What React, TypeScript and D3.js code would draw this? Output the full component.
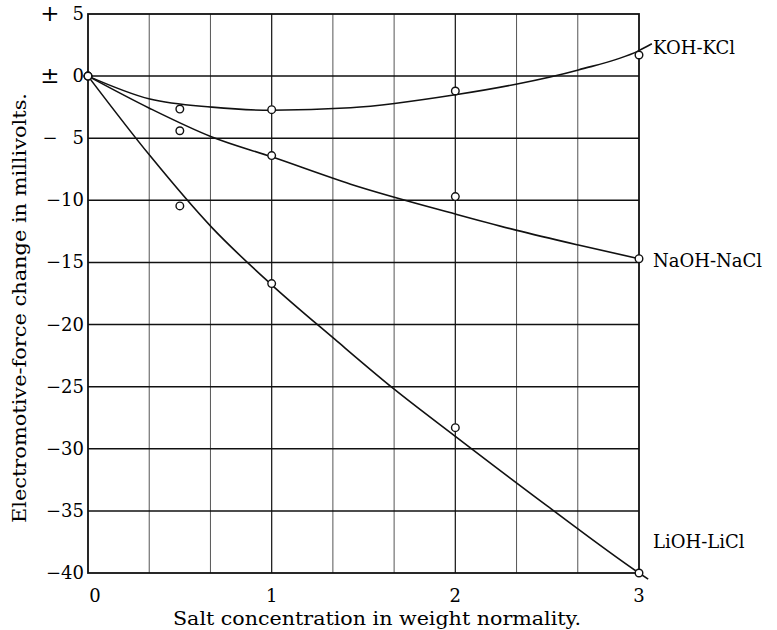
import * as d3 from 'd3';
import { useEffect, useRef } from 'react';

// measured points (salt normality vs e.m.f. change, mV)
const concentrations = [0, 0.5, 1, 2, 3];
const kohValues = [0, -2.65, -2.7, -1.2, 1.7];
const naohValues = [0, -4.4, -6.4, -9.7, -14.7];
const liohValues = [0, -10.45, -16.7, -28.3, -40];

// hand-drawn smoothing curves
const kohCurveX = [0, 0.337, 0.675, 1, 1.43, 2, 2.33, 2.67, 3, 3.07];
const kohCurveY = [0, -1.85, -2.5, -2.75, -2.55, -1.5, -0.65, 0.5, 2.05, 2.6];
const naohCurveX = [0, 0.337, 0.675, 1, 1.43, 2, 2.33, 2.67, 3];
const naohCurveY = [0, -2.6, -4.9, -6.5, -8.7, -11.1, -12.4, -13.6, -14.7];
const liohCurveX = [0, 0.337, 0.675, 1, 1.345, 1.667, 2, 2.5, 3, 3.05];
const liohCurveY = [0, -6.4, -12.2, -16.8, -21.2, -25.2, -29, -34.6, -40, -40.5];

const seriesNames = ['KOH-KCl', 'NaOH-NaCl', 'LiOH-LiCl'];

const xTicks = [0, 1, 2, 3];
const xGrid = [1 / 3, 2 / 3, 1, 4 / 3, 5 / 3, 2, 7 / 3, 8 / 3];
const yTicks = [5, 0, -5, -10, -15, -20, -25, -30, -35, -40];
const ySigns = ['+', '±', '−', '', '', '', '', '', '', ''];
const yNumbers = ['5', '0', '5', '−10', '−15', '−20', '−25', '−30', '−35', '−40'];

const xTitle = 'Salt concentration in weight normality.';
const yTitle = 'Electromotive-force change in millivolts.';

export default function App() {
  const ref = useRef<SVGSVGElement | null>(null);

  useEffect(() => {
    const width = 777, height = 630;
    const margin = { top: 14, right: 138, bottom: 57, left: 88 };
    const font = '"DejaVu Serif", "Liberation Serif", serif';

    const x = d3.scaleLinear().domain([0, 3]).range([margin.left, width - margin.right]);
    const y = d3.scaleLinear().domain([5, -40]).range([margin.top, height - margin.bottom]);

    const svg = d3.select(ref.current);
    svg.selectAll('*').remove();
    svg.append('rect').attr('width', width).attr('height', height).attr('fill', '#fff');

    const grid = svg.append('g');
    grid.selectAll('line.v')
      .data(xGrid)
      .enter()
      .append('line')
      .attr('x1', d => x(d)).attr('x2', d => x(d))
      .attr('y1', y(5)).attr('y2', y(-40))
      .attr('stroke', d => Math.abs(d - Math.round(d)) < 0.01 ? '#222' : '#555')
      .attr('stroke-width', d => Math.abs(d - Math.round(d)) < 0.01 ? 1.3 : 1);

    grid.selectAll('line.h')
      .data(yTicks.slice(1, -1))
      .enter()
      .append('line')
      .attr('x1', x(0)).attr('x2', x(3))
      .attr('y1', d => y(d)).attr('y2', d => y(d))
      .attr('stroke', '#111')
      .attr('stroke-width', 1.5);

    grid.append('rect')
      .attr('x', x(0)).attr('y', y(5))
      .attr('width', x(3) - x(0)).attr('height', y(-40) - y(5))
      .attr('fill', 'none')
      .attr('stroke', '#111')
      .attr('stroke-width', 1.8);

    // y tick labels, the sign of the first three set apart
    const yl = svg.append('g').attr('font-family', font).attr('fill', '#000');
    yTicks.forEach((t, i) => {
      yl.append('text')
        .attr('x', 84).attr('y', y(t) + 6)
        .attr('text-anchor', 'end')
        .attr('font-size', 18)
        .text(yNumbers[i]);
      if (ySigns[i]) {
        yl.append('text')
          .attr('x', 50).attr('y', y(t) + (i === 2 ? 6 : 7))
          .attr('text-anchor', 'middle')
          .attr('font-size', i === 2 ? 18 : 23)
          .text(ySigns[i]);
      }
    });

    // x tick labels
    svg.append('g')
      .selectAll('text')
      .data(xTicks)
      .enter()
      .append('text')
      .attr('x', d => x(d) + (d === 0 ? 7 : 0))
      .attr('y', 602)
      .attr('text-anchor', 'middle')
      .attr('font-family', font)
      .attr('font-size', 18)
      .attr('fill', '#000')
      .text(d => d);

    svg.append('text')
      .attr('x', 173).attr('y', 625)
      .attr('font-family', font).attr('font-size', 18).attr('fill', '#000')
      .attr('textLength', 408).attr('lengthAdjust', 'spacingAndGlyphs')
      .text(xTitle);

    svg.append('text')
      .attr('transform', 'translate(26,523) rotate(-90)')
      .attr('font-family', font).attr('font-size', 18).attr('fill', '#000')
      .attr('textLength', 430).attr('lengthAdjust', 'spacingAndGlyphs')
      .text(yTitle);

    // curves
    const line = d3.line<[number, number]>()
      .x(d => x(d[0]))
      .y(d => y(d[1]))
      .curve(d3.curveMonotoneX);

    const curves: [number[], number[]][] = [
      [kohCurveX, kohCurveY],
      [naohCurveX, naohCurveY],
      [liohCurveX, liohCurveY],
    ];
    curves.forEach(([cx, cy]) => {
      svg.append('path')
        .datum(cx.map((v, i) => [v, cy[i]] as [number, number]))
        .attr('d', line)
        .attr('fill', 'none')
        .attr('stroke', '#111')
        .attr('stroke-width', 1.6);
    });

    // observed points
    [kohValues, naohValues, liohValues].forEach(vals => {
      svg.append('g')
        .selectAll('circle')
        .data(vals)
        .enter()
        .append('circle')
        .attr('cx', (d, i) => x(concentrations[i]))
        .attr('cy', d => y(d))
        .attr('r', 3.8)
        .attr('fill', '#fff')
        .attr('stroke', '#111')
        .attr('stroke-width', 1.4);
    });

    // series labels
    const labelY = [54, 267, 548];
    svg.append('g')
      .selectAll('text')
      .data(seriesNames)
      .enter()
      .append('text')
      .attr('x', 653)
      .attr('y', (d, i) => labelY[i])
      .attr('font-family', font)
      .attr('font-size', 18)
      .attr('fill', '#000')
      .text(d => d);
  }, []);

  return (
    <div style={{ position: 'absolute', left: 0, top: 0 }}>
      <svg ref={ref} width={777} height={630} style={{ display: 'block' }} />
    </div>
  );
}
